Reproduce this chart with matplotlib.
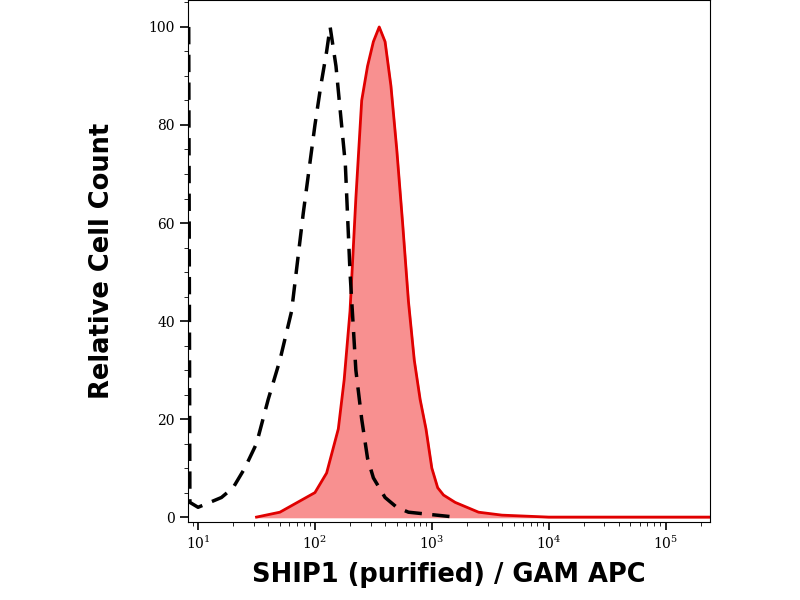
import numpy as np
import matplotlib.pyplot as plt
from matplotlib.ticker import LogLocator, MultipleLocator, NullFormatter

# histogram outlines, x given as log10 of intensity
red_logx = [1.5, 1.7, 1.85, 2.0, 2.1, 2.2, 2.25, 2.3, 2.35, 2.4, 2.45, 2.5, 2.55, 2.6, 2.65,
            2.7, 2.75, 2.8, 2.85, 2.9, 2.95, 3.0, 3.05, 3.1, 3.2, 3.3, 3.4, 3.6, 4.0, 5.4]
red_y = [0, 1, 3, 5, 9, 18, 28, 42, 65, 85, 92, 97, 100, 97, 88,
         75, 60, 44, 32, 24, 18, 10, 6, 4.5, 3, 2, 1, 0.4, 0, 0]

black_logx = [0.92, 0.93, 1.0, 1.1, 1.2, 1.3, 1.4, 1.5, 1.6, 1.7, 1.8, 1.9, 2.0, 2.05, 2.1,
              2.13, 2.18, 2.22, 2.26, 2.3, 2.35, 2.4, 2.45, 2.5, 2.6, 2.7, 2.8, 3.0, 3.2]
black_y = [100, 3, 2, 3, 4, 6, 10, 15, 24, 32, 42, 62, 80, 88, 95,
           100, 92, 82, 72, 50, 30, 20, 12, 8, 4, 2, 1, 0.5, 0]

fig = plt.figure(figsize=(8, 6), dpi=100)
ax = fig.add_axes([0.235, 0.13, 0.6525, 0.87])

rx = 10 ** np.array(red_logx)
bx = 10 ** np.array(black_logx)
ax.fill_between(rx, red_y, color="#f89090", zorder=1)
ax.plot(rx, red_y, color="#e00000", lw=2, zorder=2)
ax.plot(bx, black_y, color="black", lw=2.5, ls=(0, (5, 3)), zorder=3)

ax.set_xscale("log")
ax.set_xlim(8.2, 2.4e5)
ax.set_ylim(-1, 105.5)
ax.yaxis.set_major_locator(MultipleLocator(20))
ax.yaxis.set_minor_locator(MultipleLocator(5))
ax.xaxis.set_major_locator(LogLocator(base=10))
ax.xaxis.set_minor_locator(LogLocator(base=10, subs=np.arange(2, 10)))
ax.xaxis.set_minor_formatter(NullFormatter())
ax.tick_params(labelsize=10, length=6, width=1.2)
ax.tick_params(which="minor", length=3)
for lab in ax.get_xticklabels() + ax.get_yticklabels():
    lab.set_family("DejaVu Serif")

ax.set_ylabel("Relative Cell Count", fontsize=18.5, fontweight="bold", labelpad=24)
ax.set_xlabel("SHIP1 (purified) / GAM APC", fontsize=18.5, fontweight="bold", labelpad=7)

fig.savefig("out.png")
